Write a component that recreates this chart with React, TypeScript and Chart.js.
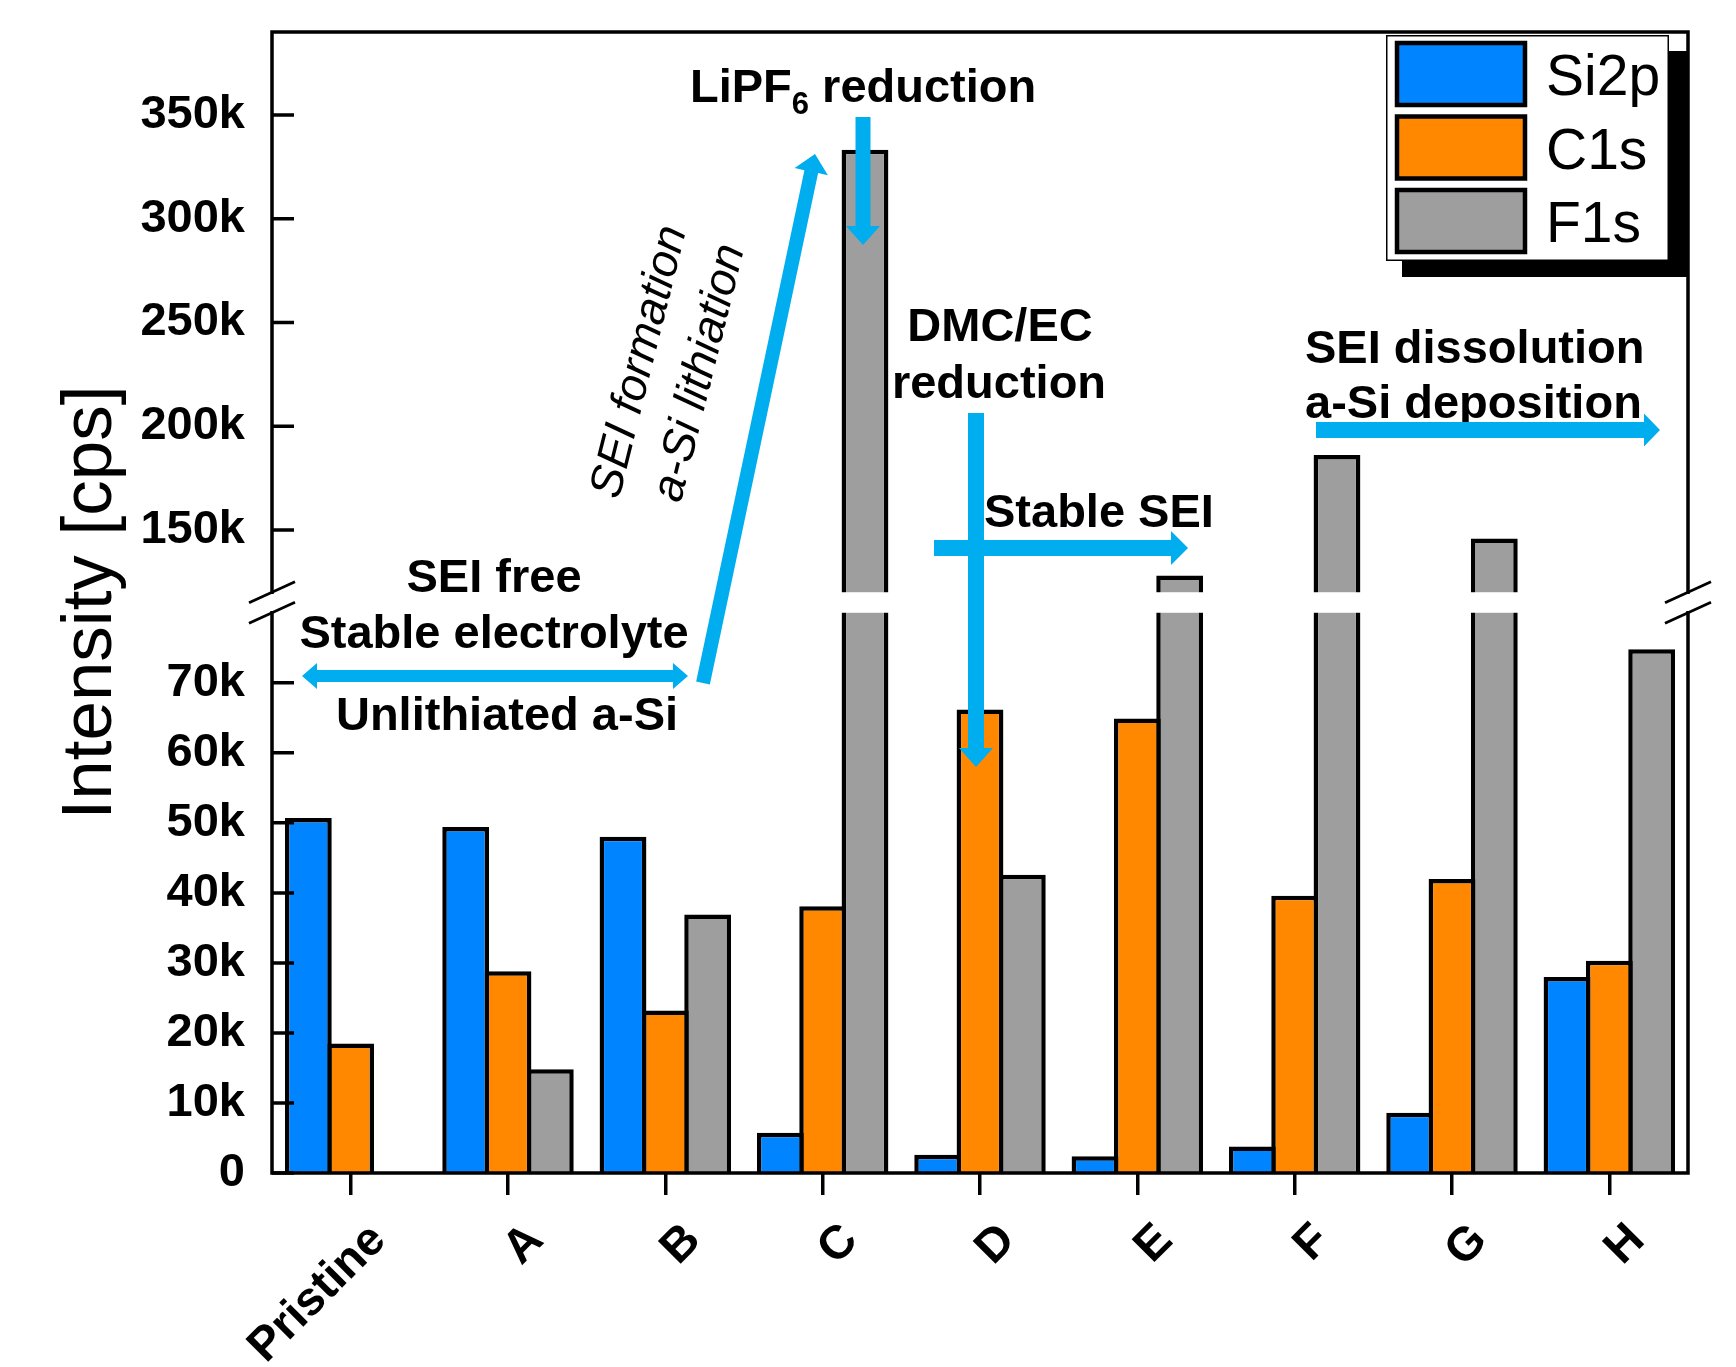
import React, { useEffect, useRef } from 'react';
import { Chart, registerables, LinearScale } from 'chart.js';

Chart.register(...registerables);

// ---------- data ----------
const CATEGORIES = ['Pristine', 'A', 'B', 'C', 'D', 'E', 'F', 'G', 'H'];
const SI2P = [50700, 49400, 48000, 5750, 2600, 2400, 3800, 8600, 28000];
const C1S = [18500, 28800, 23200, 38100, 66200, 64900, 39600, 42000, 30300];
const F1S = [null, 14800, 36900, 333300, 42600, 128100, 186100, 145900, 74800];
const SERIES_NAMES = ['Si2p', 'C1s', 'F1s'];
const Y_TICKS = [0, 10000, 20000, 30000, 40000, 50000, 60000, 70000, 150000, 200000, 250000, 300000, 350000];

// broken axis: 0..80k below the break, 120k..390k above it
const AXIS_LOW_MAX = 80000;
const AXIS_HIGH_MIN = 120000;
const AXIS_MAX = 390000;
const GAP_FRAC = 0.018;
const LOW_FRAC = (1 - GAP_FRAC) / 2;
const HIGH_FRAC = 1 - LOW_FRAC - GAP_FRAC;

const COLORS = ['#0084FF', '#FF8800', '#9E9E9E'];
const ARROW = '#00AEEF';
const FONT = "'Liberation Sans', Arial, Helvetica, sans-serif";
const BAR_BORDER = 4.5;
const CAT_PCT = 0.807;

function toDecimal(v: number): number {
  if (v <= AXIS_LOW_MAX) return (v / AXIS_LOW_MAX) * LOW_FRAC;
  if (v >= AXIS_HIGH_MIN) return LOW_FRAC + GAP_FRAC + ((v - AXIS_HIGH_MIN) / (AXIS_MAX - AXIS_HIGH_MIN)) * HIGH_FRAC;
  return LOW_FRAC + ((v - AXIS_LOW_MAX) / (AXIS_HIGH_MIN - AXIS_LOW_MAX)) * GAP_FRAC;
}
function fromDecimal(d: number): number {
  if (d <= LOW_FRAC) return (d / LOW_FRAC) * AXIS_LOW_MAX;
  if (d >= LOW_FRAC + GAP_FRAC) return AXIS_HIGH_MIN + ((d - LOW_FRAC - GAP_FRAC) / HIGH_FRAC) * (AXIS_MAX - AXIS_HIGH_MIN);
  return AXIS_LOW_MAX + ((d - LOW_FRAC) / GAP_FRAC) * (AXIS_HIGH_MIN - AXIS_LOW_MAX);
}

class BrokenLinearScale extends LinearScale {
  static id = 'brokenLinear';
  static defaults = LinearScale.defaults;
  getPixelForValue(value: any) {
    if (value === null || value === undefined || isNaN(value)) return NaN;
    return this.getPixelForDecimal(toDecimal(value));
  }
  getValueForPixel(pixel: number) {
    return fromDecimal(this.getDecimalForPixel(pixel));
  }
}
Chart.register(BrokenLinearScale as any);

function arrow(ctx: CanvasRenderingContext2D, x1: number, y1: number, x2: number, y2: number,
  shaft: number, headW: number, headL: number, double = false) {
  const dx = x2 - x1, dy = y2 - y1;
  const len = Math.hypot(dx, dy);
  const ux = dx / len, uy = dy / len;
  const px = -uy, py = ux;
  const hs = shaft / 2, hw = headW / 2;
  const P = (bx: number, by: number, a: number, b: number) => [bx + ux * a + px * b, by + uy * a + py * b];
  const pts: number[][] = [];
  if (double) {
    pts.push(P(x1, y1, 0, 0));
    pts.push(P(x1, y1, headL, hw));
    pts.push(P(x1, y1, headL, hs));
  } else {
    pts.push(P(x1, y1, 0, hs));
  }
  pts.push(P(x2, y2, -headL, hs));
  pts.push(P(x2, y2, -headL, hw));
  pts.push(P(x2, y2, 0, 0));
  pts.push(P(x2, y2, -headL, -hw));
  pts.push(P(x2, y2, -headL, -hs));
  if (double) {
    pts.push(P(x1, y1, headL, -hs));
    pts.push(P(x1, y1, headL, -hw));
  } else {
    pts.push(P(x1, y1, 0, -hs));
  }
  ctx.beginPath();
  ctx.moveTo(pts[0][0], pts[0][1]);
  for (let i = 1; i < pts.length; i++) ctx.lineTo(pts[i][0], pts[i][1]);
  ctx.closePath();
  ctx.fillStyle = ARROW;
  ctx.fill();
}

function txt(ctx: CanvasRenderingContext2D, s: string, x: number, y: number, align: CanvasTextAlign = 'center', size = 47, style = 'bold') {
  ctx.font = `${style} ${size}px ${FONT}`;
  ctx.textAlign = align;
  ctx.textBaseline = 'alphabetic';
  ctx.fillStyle = '#000';
  ctx.fillText(s, x, y);
}

const decorPlugin = {
  id: 'decor',
  afterDatasetsDraw(chart: any) {
    const { ctx, chartArea } = chart;
    const { left, right, top, bottom } = chartArea;
    const y = chart.scales.y;
    const gTop = y.getPixelForValue(AXIS_HIGH_MIN);
    const gBot = y.getPixelForValue(AXIS_LOW_MAX);
    ctx.save();
    // white break band through the bars
    ctx.fillStyle = '#fff';
    ctx.fillRect(left + 2, gTop, right - left - 4, gBot - gTop);

    // frame
    ctx.strokeStyle = '#000';
    ctx.lineWidth = 3.5;
    ctx.lineCap = 'square';
    ctx.beginPath();
    ctx.moveTo(left, top); ctx.lineTo(right, top);
    ctx.moveTo(left, bottom); ctx.lineTo(right, bottom);
    ctx.moveTo(left, top); ctx.lineTo(left, gTop);
    ctx.moveTo(left, gBot); ctx.lineTo(left, bottom);
    ctx.moveTo(right, top); ctx.lineTo(right, gTop);
    ctx.moveTo(right, gBot); ctx.lineTo(right, bottom);
    ctx.stroke();

    // inward y ticks
    ctx.lineCap = 'butt';
    ctx.beginPath();
    y.ticks.forEach((t: any) => {
      const py = y.getPixelForValue(t.value);
      ctx.moveTo(left, py); ctx.lineTo(left + 22, py);
    });
    ctx.stroke();

    // break marks
    ctx.lineWidth = 2.8;
    ctx.beginPath();
    [left, right].forEach((ax) => {
      [gTop, gBot].forEach((gy) => {
        ctx.moveTo(ax - 23, gy + 10.5);
        ctx.lineTo(ax + 23, gy - 10.5);
      });
    });
    ctx.stroke();

    // annotations
    txt(ctx, 'SEI free', 494, 592);
    txt(ctx, 'Stable electrolyte', 494, 648);
    txt(ctx, 'Unlithiated a-Si', 507, 730);
    arrow(ctx, 302, 676, 688, 676, 12, 26, 15, true);
    arrow(ctx, 703, 683, 815, 154, 14, 34, 18);

    // LiPF6 reduction with subscript
    ctx.font = `bold 47px ${FONT}`;
    const w1 = ctx.measureText('LiPF').width;
    txt(ctx, 'LiPF', 690, 102, 'left');
    ctx.font = `bold 31px ${FONT}`;
    const w2 = ctx.measureText('6').width;
    txt(ctx, '6', 690 + w1, 114, 'left', 31);
    txt(ctx, ' reduction', 690 + w1 + w2, 102, 'left');
    arrow(ctx, 863, 117, 863, 245, 15, 34, 19);

    txt(ctx, 'DMC/EC', 1000, 341);
    txt(ctx, 'reduction', 999, 398);
    arrow(ctx, 976, 413, 976, 767, 16, 34, 19);

    txt(ctx, 'Stable SEI', 984, 527, 'left');
    arrow(ctx, 934, 548, 1188, 548, 16, 34, 17);

    txt(ctx, 'SEI dissolution', 1305, 363, 'left');
    txt(ctx, 'a-Si deposition', 1305, 418, 'left');
    arrow(ctx, 1316, 430, 1660, 430, 16, 33, 16);

    // rotated italic labels
    const rot = (s: string, cx: number, cy: number) => {
      ctx.save();
      ctx.translate(cx, cy);
      ctx.rotate((-76 * Math.PI) / 180);
      ctx.font = `italic 46px ${FONT}`;
      ctx.textAlign = 'center';
      ctx.textBaseline = 'middle';
      ctx.fillStyle = '#000';
      ctx.fillText(s, 0, 0);
      ctx.restore();
    };
    rot('SEI formation', 640, 362);
    rot('a-Si lithiation', 700, 373);

    // legend with drop shadow
    const bx = right - 302, by = top + 3, bw = 283, bh = 226;
    ctx.fillStyle = '#000';
    ctx.fillRect(bx + 16, by + 16, right - (bx + 16), bh);
    ctx.fillStyle = '#fff';
    ctx.fillRect(bx, by, bw, bh);
    ctx.lineWidth = 1.5;
    ctx.strokeStyle = '#000';
    ctx.strokeRect(bx + 0.75, by + 0.75, bw - 1.5, bh - 1.5);
    chart.data.datasets.forEach((ds: any, i: number) => {
      const sy = by + 6 + i * 73.5;
      ctx.fillStyle = ds.backgroundColor;
      ctx.fillRect(bx + 11, sy + 2, 128, 62);
      ctx.lineWidth = 4.5;
      ctx.strokeStyle = '#000';
      ctx.strokeRect(bx + 11, sy + 2, 128, 62);
      txt(ctx, ds.label, bx + 160, sy + 54, 'left', 57, 'normal');
    });
    ctx.restore();
  },
};

export default function App() {
  const ref = useRef<HTMLCanvasElement>(null);
  useEffect(() => {
    const tickFont = { family: FONT, size: 47, weight: 'bold' as const };
    const catWidth = (1688 - 272) / CATEGORIES.length;
    const stride = (catWidth * CAT_PCT) / 3;
    const chart = new Chart(ref.current as HTMLCanvasElement, {
      type: 'bar',
      data: {
        labels: CATEGORIES,
        datasets: [SI2P, C1S, F1S].map((d, i) => ({
          label: SERIES_NAMES[i],
          data: d as any,
          backgroundColor: COLORS[i],
          borderColor: '#000',
          borderWidth: BAR_BORDER,
          borderSkipped: 'start' as const,
          categoryPercentage: CAT_PCT,
          barPercentage: (stride + BAR_BORDER) / stride,
        })),
      },
      options: {
        responsive: false,
        animation: false,
        events: [],
        layout: { padding: { left: 0, top: 32, right: 48, bottom: 0 } },
        plugins: { legend: { display: false }, tooltip: { enabled: false } },
        scales: {
          x: {
            type: 'category',
            offset: true,
            grid: { display: true, drawOnChartArea: false, drawTicks: true, tickLength: 22, lineWidth: 3.5, color: '#000', offset: false },
            border: { display: false },
            ticks: {
              autoSkip: false,
              maxRotation: 45,
              minRotation: 45,
              font: { family: FONT, size: 47, weight: 'bold' },
              color: '#000',
              padding: 18,
              labelOffset: 28,
            },
            afterFit: (s: any) => { s.height = 194; s.paddingLeft = 0; s.paddingRight = 0; },
          },
          y: {
            type: 'brokenLinear' as any,
            min: 0,
            max: AXIS_MAX,
            grid: { display: false, drawTicks: false },
            border: { display: false },
            afterBuildTicks: (s: any) => { s.ticks = Y_TICKS.map((v) => ({ value: v })); },
            ticks: {
              font: tickFont,
              color: '#000',
              padding: 27,
              callback: (v: any) => (Number(v) === 0 ? '0' : `${Number(v) / 1000}k`),
            },
            title: {
              display: true,
              text: 'Intensity [cps]',
              color: '#000',
              font: { family: FONT, size: 71, weight: 'normal' },
              padding: { top: 49, bottom: 0 },
            },
            afterFit: (s: any) => { s.width = 272; s.paddingTop = 0; s.paddingBottom = 0; },
          } as any,
        },
      },
      plugins: [decorPlugin],
    });
    return () => chart.destroy();
  }, []);
  return (
    <div style={{ position: 'fixed', left: 0, top: 0, width: 1736, height: 1367, background: '#fff' }}>
      <canvas ref={ref} width={1736} height={1367} style={{ display: 'block', width: 1736, height: 1367 }} />
    </div>
  );
}
